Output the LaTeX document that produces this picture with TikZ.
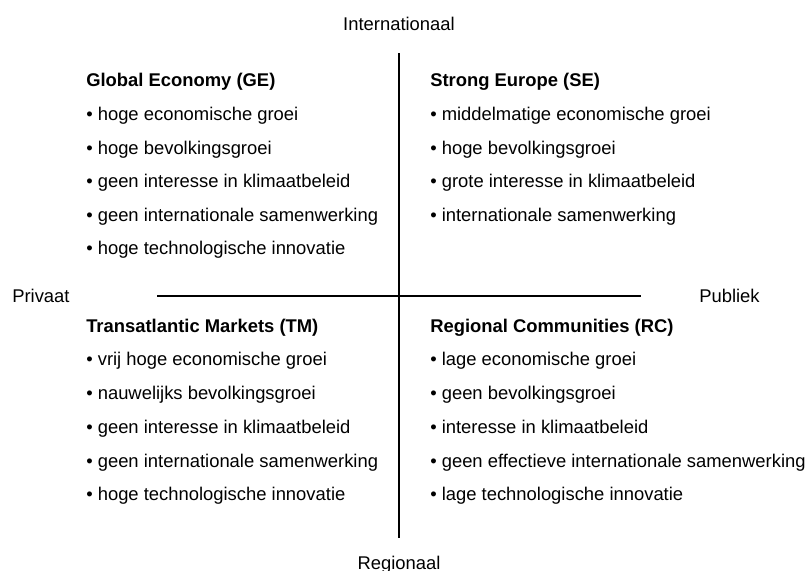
\documentclass[tikz,border=0pt]{standalone}
\usepackage{fontspec}
\setmainfont{Liberation Sans}
\begin{document}
\begin{tikzpicture}[x=0.75pt,y=-0.75pt,
  txt/.style={inner sep=0pt,font=\fontsize{13.8}{16}\selectfont,text height=10pt,text depth=3pt},
  head/.style={txt,font=\fontsize{13.8}{16}\selectfont\bfseries,anchor=west},
  item/.style={txt,anchor=west},
  axis/.style={draw=black,line width=0.9pt}]
\useasboundingbox (0,0) rectangle (808,571);
% axis labels
\node[txt] (int) at (399,26) {Internationaal};
\node[txt] (reg) at (399,565) {Regionaal};
\node[txt,anchor=west] (priv) at (12,298) {Privaat};
\node[txt,anchor=west] (pub) at (699,298) {Publiek};
% axes
\coordinate (vt) at (399,53);
\coordinate (vb) at (399,538);
\coordinate (hl) at (157,296);
\coordinate (hr) at (641,296);
\draw[axis] (vt) -- (vb);
\draw[axis] (hl) -- (hr);
% Global Economy
\node[head] (ge) at (86,82) {Global Economy (GE)};
\node[item] (ge1) at (86,116) {• hoge economische groei};
\node[item] (ge2) at (86,150) {• hoge bevolkingsgroei};
\node[item] (ge3) at (86,183) {• geen interesse in klimaatbeleid};
\node[item] (ge4) at (86,217) {• geen internationale samenwerking};
\node[item] (ge5) at (86,250) {• hoge technologische innovatie};
% Strong Europe
\node[head] (se) at (430,82) {Strong Europe (SE)};
\node[item] (se1) at (430,116) {• middelmatige economische groei};
\node[item] (se2) at (430,150) {• hoge bevolkingsgroei};
\node[item] (se3) at (430,183) {• grote interesse in klimaatbeleid};
\node[item] (se4) at (430,217) {• internationale samenwerking};
% Transatlantic Markets
\node[head] (tm) at (86,328) {Transatlantic Markets (TM)};
\node[item] (tm1) at (86,361) {• vrij hoge economische groei};
\node[item] (tm2) at (86,395) {• nauwelijks bevolkingsgroei};
\node[item] (tm3) at (86,429) {• geen interesse in klimaatbeleid};
\node[item] (tm4) at (86,463) {• geen internationale samenwerking};
\node[item] (tm5) at (86,496) {• hoge technologische innovatie};
% Regional Communities
\node[head] (rc) at (430,328) {Regional Communities (RC)};
\node[item] (rc1) at (430,361) {• lage economische groei};
\node[item] (rc2) at (430,395) {• geen bevolkingsgroei};
\node[item] (rc3) at (430,429) {• interesse in klimaatbeleid};
\node[item] (rc4) at (430,463) {• geen effectieve internationale samenwerking};
\node[item] (rc5) at (430,496) {• lage technologische innovatie};
\end{tikzpicture}
\end{document}
